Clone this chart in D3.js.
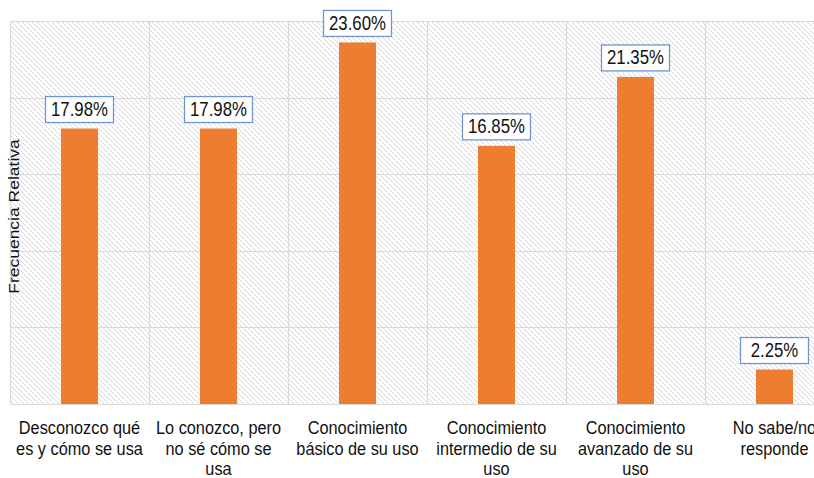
<!DOCTYPE html>
<html>
<head>
<meta charset="utf-8">
<script src="https://cdn.jsdelivr.net/npm/d3@7"></script>
<style>
  html, body { margin: 0; padding: 0; background: #fff; }
  svg { display: block; font-family: "Liberation Sans", Arial, sans-serif; }
</style>
</head>
<body>
<svg id="chart" width="814" height="478"></svg>
<script>
const categories = [
  "Desconozco qué\nes y cómo se usa",
  "Lo conozco, pero\nno sé cómo se\nusa",
  "Conocimiento\nbásico de su uso",
  "Conocimiento\nintermedio de su\nuso",
  "Conocimiento\navanzado de su\nuso",
  "No sabe/no\nresponde"
];
const values = [17.98, 17.98, 23.60, 16.85, 21.35, 2.25];
const yTicks = [0, 5, 10, 15, 20, 25];
const yTitle = "Frecuencia Relativa";

const svg = d3.select("#chart");
const pLeft = 10, pTop = 21, pBottom = 404, pRight = 844;

const x = d3.scaleBand().domain(categories).range([pLeft, pRight])
  .paddingInner(0.734).paddingOuter(0.367);
const y = d3.scaleLinear().domain([0, 25]).range([pBottom, pTop]);
const step = x.step();

// hatch pattern
const defs = svg.append("defs");
const pat = defs.append("pattern").attr("id", "hatch")
  .attr("patternUnits", "userSpaceOnUse").attr("width", 5).attr("height", 5);
pat.append("rect").attr("width", 5).attr("height", 5).attr("fill", "#fff");
pat.append("path").attr("d", "M-1,-1 L6,6 M-1,4 L1,6 M4,-1 L6,1")
  .attr("stroke", "#d6d6d6").attr("stroke-width", 1);

svg.append("rect").attr("x", pLeft).attr("y", pTop)
  .attr("width", pRight - pLeft).attr("height", pBottom - pTop)
  .attr("fill", "url(#hatch)");

// horizontal gridlines
svg.append("g").selectAll("line").data(yTicks).join("line")
  .attr("x1", pLeft).attr("x2", pRight)
  .attr("y1", d => Math.round(y(d)) + 0.5).attr("y2", d => Math.round(y(d)) + 0.5)
  .attr("stroke", "#d9d9d9").attr("stroke-width", 1.2);

// vertical gridlines at category boundaries
const bounds = d3.range(categories.length + 1).map(i => pLeft + i * step);
svg.append("g").selectAll("line").data(bounds).join("line")
  .attr("x1", d => Math.round(d) + 0.5).attr("x2", d => Math.round(d) + 0.5)
  .attr("y1", pTop).attr("y2", pBottom)
  .attr("stroke", "#d9d9d9").attr("stroke-width", 1.2);

// bars
svg.append("g").selectAll("rect").data(values).join("rect")
  .attr("x", (d, i) => x(categories[i]))
  .attr("width", x.bandwidth())
  .attr("y", d => y(d))
  .attr("height", d => pBottom - y(d))
  .attr("fill", "#ED7D31");

// value labels
const fmt = d => d3.format(".2f")(d) + "%";
const lbl = svg.append("g").selectAll("g").data(values).join("g")
  .attr("transform", (d, i) => `translate(${x(categories[i]) + x.bandwidth() / 2},${y(d) - 6})`);
lbl.append("rect").attr("x", -34).attr("y", -26).attr("width", 68).attr("height", 26)
  .attr("fill", "#fff").attr("stroke", "#7096d2").attr("stroke-width", 1.3);
lbl.append("text").attr("text-anchor", "middle")
  .attr("transform", "translate(0,-6.5) scale(1,1.15)")
  .attr("font-size", 16.8).attr("fill", "#111")
  .text(d => fmt(d));

// category labels
const cat = svg.append("g").selectAll("g").data(categories).join("g")
  .attr("transform", d => `translate(${x(d) + x.bandwidth() / 2},0)`);
cat.each(function(d) {
  const lines = d.split("\n");
  d3.select(this).selectAll("text").data(lines).join("text")
    .attr("text-anchor", "middle")
    .attr("font-size", 16.3).attr("fill", "#111")
    .attr("transform", (l, j) => `translate(0,${434 + j * 20.5}) scale(1,1.07)`)
    .text(l => l);
});

// y axis title
svg.append("text")
  .attr("transform", `translate(19,${(pTop + pBottom) / 2 + 4}) rotate(-90) scale(1.25,1.05)`)
  .attr("text-anchor", "middle").attr("font-size", 14).attr("fill", "#111")
  .text(yTitle);
</script>
</body>
</html>
